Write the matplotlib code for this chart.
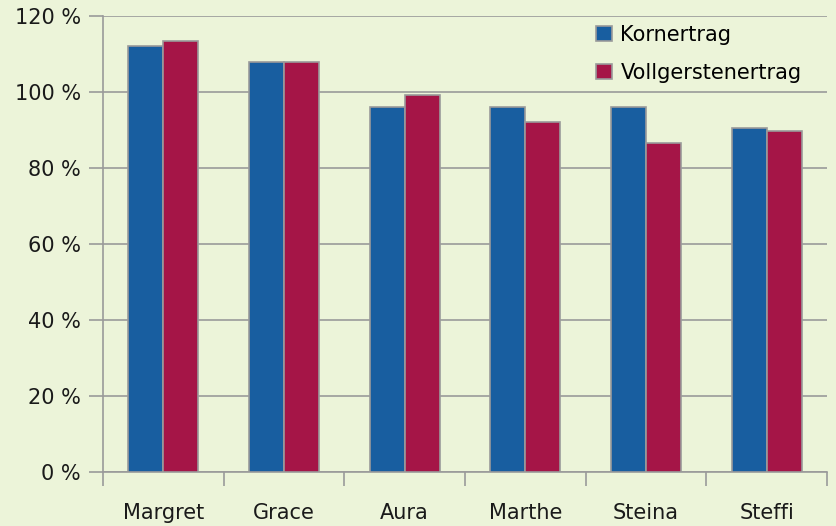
import numpy as np
import matplotlib.pyplot as plt
from matplotlib.ticker import FuncFormatter

# Sorten und relative Erträge (%)
sorten = ['Margret', 'Grace', 'Aura', 'Marthe', 'Steina', 'Steffi']
kornertrag = [112, 108, 96, 96, 96, 90.5]
vollgerstenertrag = [113.5, 108, 99.3, 92, 86.5, 89.8]

bg = '#ECF4D9'
blue = '#185EA0'
red = '#A51547'
grey = '#9A9A9A'

plt.rcParams['font.family'] = ['DejaVu Sans']

fig = plt.figure(figsize=(8.36, 5.26), dpi=100, facecolor=bg)
ax = fig.add_axes([0.1232, 0.1027, 0.866, 0.8669], facecolor=bg)

x = np.arange(len(sorten))
w = 0.29
ax.bar(x - w / 2, kornertrag, w, color=blue, edgecolor=grey, linewidth=1.2,
       label='Kornertrag', zorder=3)
ax.bar(x + w / 2, vollgerstenertrag, w, color=red, edgecolor=grey, linewidth=1.2,
       label='Vollgerstenertrag', zorder=3)

ax.set_xlim(-0.5, len(sorten) - 0.5)
ax.set_ylim(0, 120)
ax.set_yticks(range(0, 121, 20))
ax.yaxis.set_major_formatter(FuncFormatter(lambda v, p: f'{int(v)} %'))
ax.yaxis.grid(True, color=grey, linewidth=1.2, zorder=0)

# category ticks between groups, labels centred
ax.set_xticks(np.arange(-0.5, len(sorten), 1))
ax.set_xticklabels([])
ax.set_xticks(x, minor=True)
ax.set_xticklabels(sorten, minor=True)
ax.tick_params(axis='x', which='minor', length=0, pad=22, labelsize=15, colors='#1a1a1a')
ax.tick_params(axis='x', which='major', length=10, width=1.2, color=grey, direction='out')
ax.tick_params(axis='y', length=10, width=1.2, color=grey, pad=6, labelsize=15,
               labelcolor='#1a1a1a')

for s in ['top', 'right']:
    ax.spines[s].set_visible(False)
for s in ['left', 'bottom']:
    ax.spines[s].set_color(grey)
    ax.spines[s].set_linewidth(1.2)

ax.legend(loc='upper right', bbox_to_anchor=(0.985, 1.012), frameon=False, fontsize=15,
          handlelength=0.75, handleheight=0.75, handletextpad=0.4, labelspacing=0.85,
          borderaxespad=0.3)

fig.savefig('out.png', dpi=100, facecolor=bg)
